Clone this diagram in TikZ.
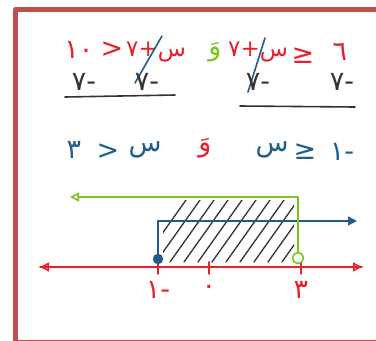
\documentclass[tikz,border=0pt]{standalone}
\usepackage{fontspec}
\newfontfamily\arabicfont[Script=Arabic]{DejaVu Sans}
\usetikzlibrary{arrows.meta,positioning}
\definecolor{framered}{HTML}{C0504D}
\definecolor{inkred}{HTML}{E8202A}
\definecolor{inkgreen}{HTML}{7DC41F}
\definecolor{inkblue}{HTML}{1F5E8A}
\definecolor{inkblack}{HTML}{333333}

\begin{document}
\begin{tikzpicture}[x=1pt,y=-1pt,line cap=round,line join=round,
 ar/.style={font=\arabicfont\fontsize{27}{29}\selectfont,inner sep=0pt},
 arsm/.style={font=\arabicfont\fontsize{23}{25}\selectfont,inner sep=0pt},
 ink/.style={line width=1.6pt},
 opentip/.style={-{Triangle[open,length=9pt,width=9pt]}}]
\useasboundingbox (0,0) rectangle (376,341);
\begin{scope}
\clip (0,0) rectangle (376,341);
\draw[framered,line width=5pt] (15.5,9.5) rectangle (400,342.5);
\end{scope}

% first line: the two inequalities
\node[ar,inkred] (ten) at (79,50) {١٠};
\node[ar,inkred] (lt1) at (112,50) {<};
\node[arsm,inkred] (lhs1) at (156,52) {س+٧};
\node[ar,inkgreen] (and1) at (215,52) {وَ};
\node[arsm,inkred] (lhs2) at (258,52) {س+٧};
\node[ar,inkred] (ge1) at (303,56) {≤};
\node[ar,inkred] (six) at (340,52) {٦};
\draw[ink,inkblue] (135,83) -- (162,36);
\draw[ink,inkblue] (248,92) -- (265,38);

% subtract 7 on both sides
\node[ar,inkblack] (m1) at (84,82) {-٧};
\node[ar,inkblack] (m2) at (147,82) {-٧};
\node[ar,inkblack] (m3) at (258,82) {-٧};
\node[ar,inkblack] (m4) at (342,82) {-٧};
\draw[ink,inkblack] (65,97) -- (175,95);
\draw[ink,inkblack] (240,106) -- (355,107);

% result
\node[ar,inkblue] (three) at (74,150) {٣};
\node[ar,inkblue] (lt2) at (108,152) {<};
\node[ar,inkblue] (x1) at (145,150) {س};
\node[ar,inkred] (and2) at (205,148) {وَ};
\node[ar,inkblue] (x2) at (272,150) {س};
\node[ar,inkblue] (ge2) at (305,152) {≤};
\node[ar,inkblue] (mone) at (342,152) {-١};

% number line
\coordinate (axL) at (40,267);
\coordinate (axR) at (362,267);
\coordinate (bEnd) at (357,221);
\coordinate (gEnd) at (70,197);
\begin{scope}
\clip (163,200) rectangle (294,262);
\foreach \i in {0,...,10}
  \draw[line width=1.3pt,inkblack] (142+\i*14,262) -- ++(44,-62);
\end{scope}
\draw[ink,inkred,opentip] (axL) -- (axR);
\draw[ink,inkred,opentip] (axR) -- (axL);
\foreach \x/\n/\l in {158/tm/-١,209/tz/٠,301/tt/٣}{
  \draw[ink,inkred] (\x,262) -- (\x,274);
  \node[ar,inkred] (\n) at (\x,290) {\l};
}
\node[circle,fill=inkblue,draw=inkblue,inner sep=0pt,minimum size=10pt] (p) at (158,259) {};
\node[circle,draw=inkgreen,line width=1.6pt,fill=white,inner sep=0pt,minimum size=11pt] (q) at (298,258) {};
\draw[ink,inkblue,-{Triangle[length=9pt,width=9pt]}] (p) |- (bEnd);
\draw[ink,inkgreen,opentip] (q) |- (gEnd);
\end{tikzpicture}
\end{document}
